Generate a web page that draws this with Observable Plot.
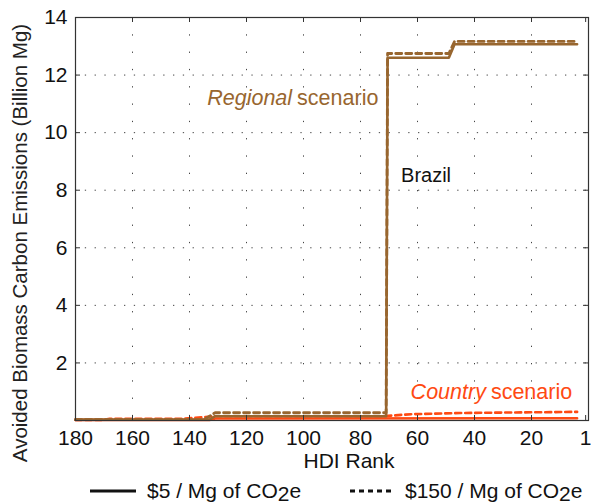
<!DOCTYPE html>
<html><head><meta charset="utf-8">
<script src="https://cdn.jsdelivr.net/npm/d3@7"></script>
<script src="https://cdn.jsdelivr.net/npm/@observablehq/plot@0.6"></script>
<style>
body{margin:0;background:#fff;font-family:"Liberation Sans",Arial,sans-serif;color:#111;}
#chart{width:591px;position:relative;}
.legend{position:relative;width:591px;height:25px;font-size:21px;}
.legend .item{position:absolute;top:0;height:25px;display:flex;align-items:center;}
.legend svg{display:block;}
.sub{position:relative;top:3px;}
</style></head><body>
<div id="chart"></div>
<div class="legend">
  <div class="item" style="left:90px"><svg width="46" height="10"><line x1="0" y1="5" x2="46" y2="5" stroke="#111" stroke-width="3"/></svg><span style="margin-left:11px">$5 / Mg of CO<span class="sub">2</span>e</span></div>
  <div class="item" style="left:350px"><svg width="44" height="10"><line x1="0" y1="5" x2="44" y2="5" stroke="#111" stroke-width="3" stroke-dasharray="5,4"/></svg><span style="margin-left:11px">$150 / Mg of CO<span class="sub">2</span>e</span></div>
</div>
<script>
const xTicks = [180,160,140,120,100,80,60,40,20,1];
const yTicks = [2,4,6,8,10,12,14];

const regional5Rank  = [180,133,131,71,70.5,49,47,4];
const regional5Value = [0.03,0.03,0.15,0.15,12.6,12.6,13.07,13.07];
const regional150Rank  = [180,135,131,71,70.5,49,47,4];
const regional150Value = [0.03,0.03,0.27,0.27,12.75,12.75,13.17,13.17];
const country5Rank  = [180,133,131,4];
const country5Value = [0.02,0.02,0.07,0.08];
const country150Rank  = [180,170,168,142,131,72,62,45,4];
const country150Value = [0.02,0.02,0.06,0.06,0.15,0.15,0.22,0.26,0.3];

const brown = "#98662f";
const red = "#ff4a12";
const rows = (r, v) => r.map((d, i) => ({rank: d, value: v[i]}));

const W = 591, H = 478;
const mL = 75, mR = 3, mT = 17, mB = 58;
const pw = W - mL - mR, ph = H - mT - mB;
const font = "Liberation Sans, Arial, sans-serif";

const chart = Plot.plot({
  width: W, height: H,
  marginLeft: mL, marginRight: mR, marginTop: mT, marginBottom: mB,
  style: {fontFamily: font, fontSize: "21px", color: "#111", background: "#fff"},
  x: {domain: [180, 0], ticks: xTicks, tickSize: 0, tickPadding: 10, label: null},
  y: {domain: [0, 14], ticks: yTicks, tickSize: 0, tickPadding: 8, label: null},
  marks: [
    Plot.ruleY(yTicks.filter(v => v < 14), {y: d => d, stroke: "#444", strokeWidth: 1, strokeDasharray: "1.3,8.5"}),
    Plot.ruleX(xTicks.filter(v => v !== 180 && v !== 1), {x: d => d, stroke: "#444", strokeWidth: 1, strokeDasharray: "1.3,16"}),
    Plot.line(rows(country150Rank, country150Value), {x: "rank", y: "value", stroke: red, strokeWidth: 2.6, strokeDasharray: "6,4"}),
    Plot.line(rows(country5Rank, country5Value), {x: "rank", y: "value", stroke: red, strokeWidth: 2.6}),
    Plot.line(rows(regional150Rank, regional150Value), {x: "rank", y: "value", stroke: brown, strokeWidth: 2.8, strokeDasharray: "6,4"}),
    Plot.line(rows(regional5Rank, regional5Value), {x: "rank", y: "value", stroke: brown, strokeWidth: 2.6}),
    Plot.frame({stroke: "#333", strokeWidth: 1.2}),
    Plot.ruleX(xTicks, {x: d => d, stroke: "#333", insetTop: ph - 5}),
    Plot.ruleX(xTicks, {x: d => d, stroke: "#333", insetBottom: ph - 5}),
    Plot.ruleY(yTicks, {y: d => d, stroke: "#333", insetRight: pw - 5}),
    Plot.ruleY(yTicks, {y: d => d, stroke: "#333", insetLeft: pw - 5}),
    Plot.text(["Regional"], {x: 104, y: 11.2, text: d => d, textAnchor: "end", fontStyle: "italic", fill: brown, fontSize: 21.5}),
    Plot.text(["scenario"], {x: 104, y: 11.2, text: d => d, textAnchor: "start", dx: 5, fill: brown, fontSize: 21.5}),
    Plot.text(["Country"], {x: 36, y: 0.97, text: d => d, textAnchor: "end", fontStyle: "italic", fill: red, fontSize: 21.5}),
    Plot.text(["scenario"], {x: 36, y: 0.97, text: d => d, textAnchor: "start", dx: 5, fill: red, fontSize: 21.5}),
    Plot.text(["Brazil"], {x: 57, y: 8.5, text: d => d, fill: "#111", fontSize: 20}),
    Plot.text(["Avoided Biomass Carbon Emissions (Billion Mg)"], {frameAnchor: "left", textAnchor: "middle", text: d => d, rotate: -90, dx: -55, dy: 24, fill: "#222", fontSize: 20.5}),
    Plot.text(["HDI Rank"], {frameAnchor: "bottom", text: d => d, dx: 17, dy: 47, fill: "#111", fontSize: 21})
  ]
});
document.getElementById("chart").appendChild(chart);
</script>
</body></html>
